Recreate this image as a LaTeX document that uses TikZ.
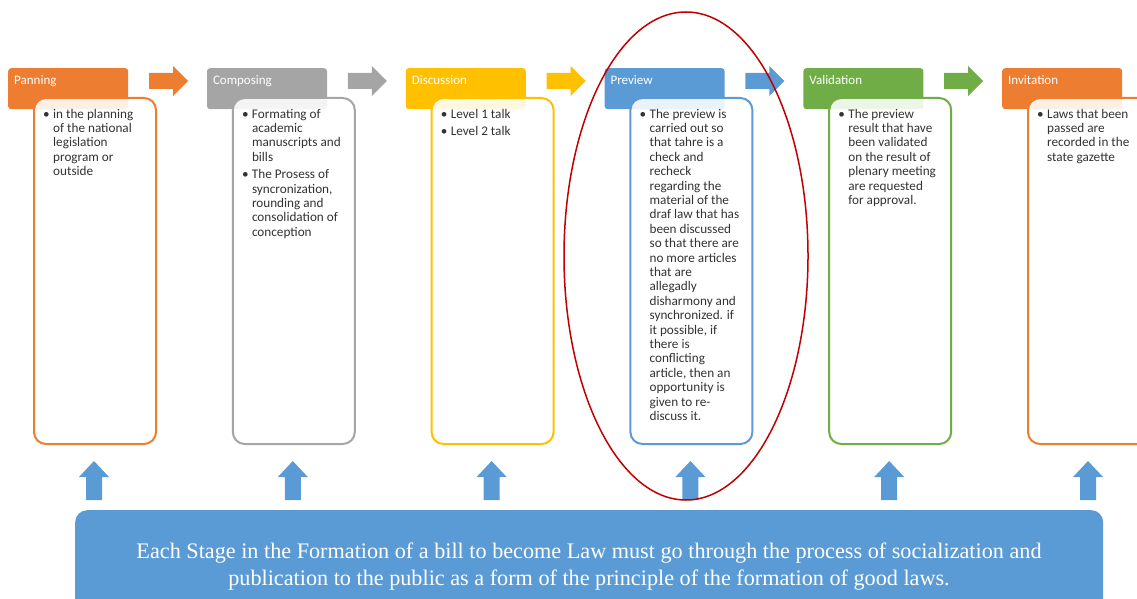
\documentclass[tikz,border=0pt]{standalone}
\usepackage{fontspec}
\setmainfont{Carlito}
\newfontfamily\bannerfont{Liberation Serif}
\usetikzlibrary{positioning}

\definecolor{stageorange}{HTML}{ED7D31}
\definecolor{stagegray}{HTML}{A5A5A5}
\definecolor{stageyellow}{HTML}{FFC000}
\definecolor{stageblue}{HTML}{5B9BD5}
\definecolor{stagegreen}{HTML}{70AD47}
\definecolor{ringred}{HTML}{C00000}
\definecolor{itemgray}{HTML}{333333}

% one bullet point of a stage
\newcommand{\stitem}[1]{\par{\let\\\newline\noindent\hangindent=10pt\hangafter=1\makebox[10pt][l]{\textbullet}#1\par}}
\newcommand{\itemgap}{\vspace{3pt}}

\newcommand{\panningtext}{\stitem{in the planning\\of the national\\legislation\\program or\\outside}}
\newcommand{\composingtext}{\stitem{Formating of\\academic\\manuscripts and\\bills}\itemgap
  \stitem{The Prosess of\\syncronization,\\rounding and\\consolidation of\\conception}}
\newcommand{\discussiontext}{\stitem{Level 1 talk}\itemgap\stitem{Level 2 talk}}
\newcommand{\previewtext}{\stitem{The preview is\\carried out so\\that tahre is a\\check and\\recheck\\regarding the\\material of the\\draf law that has\\been discussed\\so that there are\\no more articles\\that are\\allegadly\\disharmony and\\synchronized. if\\it possible, if\\there is\\conflicting\\article, then an\\opportunity is\\given to re-\\discuss it.}}
\newcommand{\validationtext}{\stitem{The preview\\result that have\\been validated\\on the result of\\plenary meeting\\are requested\\for approval.}}
\newcommand{\invitationtext}{\stitem{Laws that been\\passed are\\recorded in the\\state gazette}}

\begin{document}
\begin{tikzpicture}[x=1pt,y=-1pt,
    header/.style={fill=#1, rounded corners=3pt, minimum width=120pt, minimum height=41pt, inner sep=0pt, anchor=north west},
    headtext/.style={text=white, font=\fontsize{13}{14.4}\selectfont, inner sep=0pt, anchor=base west},
    bodybox/.style={draw=#1, line width=2pt, fill=white, fill opacity=0.88, draw opacity=1, rounded corners=12pt, minimum width=122pt, minimum height=346pt, inner sep=0pt, anchor=north west},
    itemtext/.style={text=itemgray, font=\fontsize{13.2}{14.4}\selectfont, inner sep=0pt, anchor=base west}]
	\useasboundingbox (0,0) rectangle (1137,599);
	\clip (0,0) rectangle (1137,599);
	% the six stages
	\foreach \name/\col/\body [count=\i from 0] in {Panning/stageorange/\panningtext, Composing/stagegray/\composingtext, Discussion/stageyellow/\discussiontext, Preview/stageblue/\previewtext, Validation/stagegreen/\validationtext, Invitation/stageorange/\invitationtext}{
		\pgfmathsetmacro{\X}{8+198.8*\i}
		\node[header=\col] (hdr\i) at (\X,68) {};
		\node[headtext] (hdrtxt\i) at (\X+6,85) {\name};
		\node[bodybox=\col] (body\i) at (\X+25,97) {};
		\node[itemtext] (txt\i) at (\X+35,118) {\parbox[t]{112pt}{\raggedright\body}};
		% up arrow under the stage
		\fill[stageblue] (\X+78,500) -- (\X+78,477) -- (\X+71,477) -- (\X+86,461) -- (\X+101,477) -- (\X+94,477) -- (\X+94,500) -- cycle;
	}
	% arrows from stage to stage
	\foreach \col [count=\i from 0] in {stageorange, stagegray, stageyellow, stageblue, stagegreen}{
		\pgfmathsetmacro{\X}{8+198.8*\i}
		\fill[\col] (\X+141,73) -- (\X+165,73) -- (\X+165,66) -- (\X+180,81) -- (\X+165,96) -- (\X+165,89) -- (\X+141,89) -- cycle;
	}
	% banner at the bottom
	\node[fill=stageblue, rounded corners=12pt, minimum width=1028pt, minimum height=120pt, inner sep=0pt, anchor=north west] (banner) at (75,510) {};
	\node[text=white, inner sep=0pt, anchor=base] (bannertxt) at (589,558) {\parbox[t]{1020pt}{\centering\bannerfont\fontsize{22.2}{27}\selectfont
		Each Stage in the Formation of a bill to become Law must go through the process of socialization and\\
		publication to the public as a form of the principle of the formation of good laws.}};
	% ring round the preview stage
	\draw[ringred, line width=1.5pt] (686,256) ellipse [x radius=122, y radius=244];
\end{tikzpicture}
\end{document}
